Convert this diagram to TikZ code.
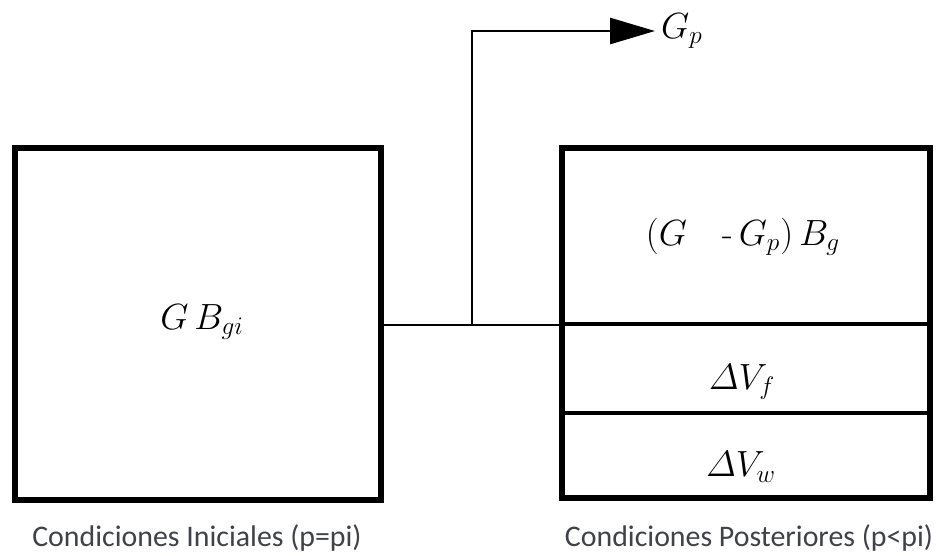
\documentclass[tikz,border=0pt]{standalone}
\usepackage{amsmath}
\usepackage{fontspec}
\newfontfamily\captionfont{Carlito}
\usetikzlibrary{arrows.meta,positioning,fit,calc}
\definecolor{captiongray}{HTML}{3F4247}

\begin{document}
\begin{tikzpicture}[
    x=0.02cm, y=-0.02cm,
    tank/.style={rectangle, draw, line width=2.9pt, inner sep=0pt, outer sep=0pt},
    part/.style={rectangle, draw, line width=2pt, inner sep=0pt, outer sep=0pt,
                 minimum width=7.36cm},
    sym/.style={font=\fontsize{20}{24}\selectfont},
    caption/.style={font=\captionfont\fontsize{17}{20}\selectfont, text=captiongray},
]
\useasboundingbox (0,0) rectangle (937,555);

% Initial state
\node[tank, minimum width=7.32cm, minimum height=7.04cm] (ini) at (198,324) {};
\node[sym] (gbgi) at (202,322) {$G\,B_{gi}$};
\node[caption] (capini) at (197,538) {Condiciones Iniciales (p=pi)};

% Later state
\node[part, minimum height=3.52cm] (gas) at (746,236) {};
\node[part, minimum height=1.78cm, below=0pt of gas] (oil) {};
\node[part, minimum height=1.70cm, below=0pt of oil] (water) {};
\node[tank, fit=(gas)(water)] (post) {};
\node[sym] (gasl) at (743,237) {$(G\quad\text{-}\,G_p)\,B_g$};
\node[sym] (oill) at (742,382) {$\varDelta V_f$};
\node[sym] (waterl) at (741,467) {$\varDelta V_w$};
\node[caption] (capost) at (749,538) {Condiciones Posteriores (p<pi)};

% Produced gas
\coordinate (split) at (472,325);
\node[sym, anchor=west] (gp) at (655,31) {$G_p$};
\draw[line width=1.6pt] (ini.east |- split) -- (post.west |- split);
\draw[line width=1.6pt, -{Triangle[length=9mm,width=5.2mm]}] (split) |- (gp.west);
\end{tikzpicture}
\end{document}
